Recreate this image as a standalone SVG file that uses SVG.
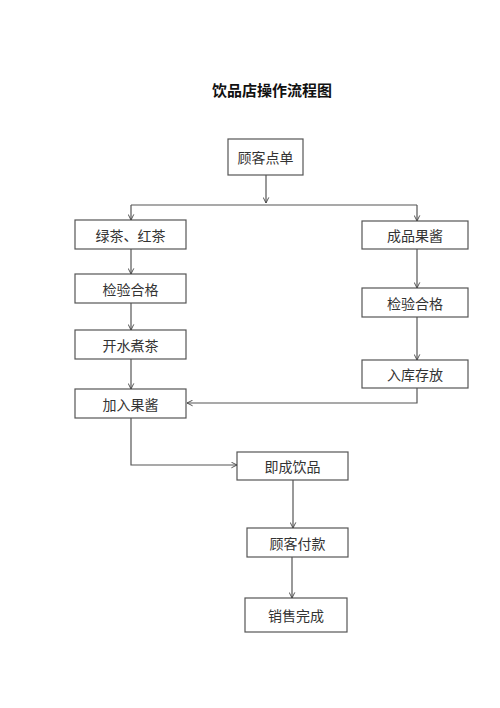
<svg xmlns="http://www.w3.org/2000/svg" width="500" height="708" viewBox="0 0 500 708">
<defs>
<marker id="ar" viewBox="0 0 10 10" refX="9" refY="5" markerWidth="7" markerHeight="7" orient="auto" markerUnits="userSpaceOnUse">
<path d="M1,1 L9,5 L1,9" fill="none" stroke="#444" stroke-width="1.3"/>
</marker>
<style>
.box{fill:#fff;stroke:#555;stroke-width:1.2}
.t{font-family:"Noto Sans CJK SC","Noto Sans CJK JP",sans-serif;font-size:14px;fill:#333;text-anchor:middle;dominant-baseline:central}
.title{font-family:"Noto Sans CJK SC",sans-serif;font-size:15px;font-weight:bold;fill:#111;text-anchor:middle}
.c{fill:none;stroke:#555;stroke-width:1.2}
.a{marker-end:url(#ar)}
</style>
</defs>
<rect width="500" height="708" fill="#fff"/>
<text class="title" x="272" y="96">饮品店操作流程图</text>
<g id="n1"><rect class="box" x="228" y="139" width="75" height="36"/><text class="t" x="265.5" y="157">顾客点单</text></g>
<g id="n2"><rect class="box" x="75" y="220" width="111" height="29"/><text class="t" x="130.5" y="234.5">绿茶、红茶</text></g>
<g id="n3"><rect class="box" x="75" y="274" width="111" height="29"/><text class="t" x="130.5" y="288.5">检验合格</text></g>
<g id="n4"><rect class="box" x="75" y="330" width="111" height="29"/><text class="t" x="130.5" y="344.5">开水煮茶</text></g>
<g id="n5"><rect class="box" x="75" y="389" width="111" height="29"/><text class="t" x="130.5" y="403.5">加入果酱</text></g>
<g id="n6"><rect class="box" x="362" y="221" width="106" height="28"/><text class="t" x="415" y="235">成品果酱</text></g>
<g id="n7"><rect class="box" x="362" y="288" width="106" height="29"/><text class="t" x="415" y="302.5">检验合格</text></g>
<g id="n8"><rect class="box" x="362" y="360" width="106" height="28"/><text class="t" x="415" y="374">入库存放</text></g>
<g id="n9"><rect class="box" x="237" y="452" width="111" height="28"/><text class="t" x="292.5" y="466">即成饮品</text></g>
<g id="n10"><rect class="box" x="247" y="528" width="101" height="29"/><text class="t" x="297.5" y="542.5">顾客付款</text></g>
<g id="n11"><rect class="box" x="245" y="598" width="102" height="34"/><text class="t" x="296" y="615">销售完成</text></g>
<g id="connectors">
<path class="c a" d="M266,175 V203"/>
<path class="c" d="M131,205 H417"/>
<path class="c a" d="M131,205 V220"/>
<path class="c a" d="M417,205 V221"/>
<path class="c a" d="M131,249 V274"/>
<path class="c a" d="M131,303 V330"/>
<path class="c a" d="M131,359 V389"/>
<path class="c a" d="M417,249 V288"/>
<path class="c a" d="M417,317 V360"/>
<path class="c a" d="M417,388 V403 H187"/>
<path class="c a" d="M131,418 V465 H237"/>
<path class="c a" d="M293,480 V528"/>
<path class="c a" d="M292,557 V598"/>
</g>
</svg>
